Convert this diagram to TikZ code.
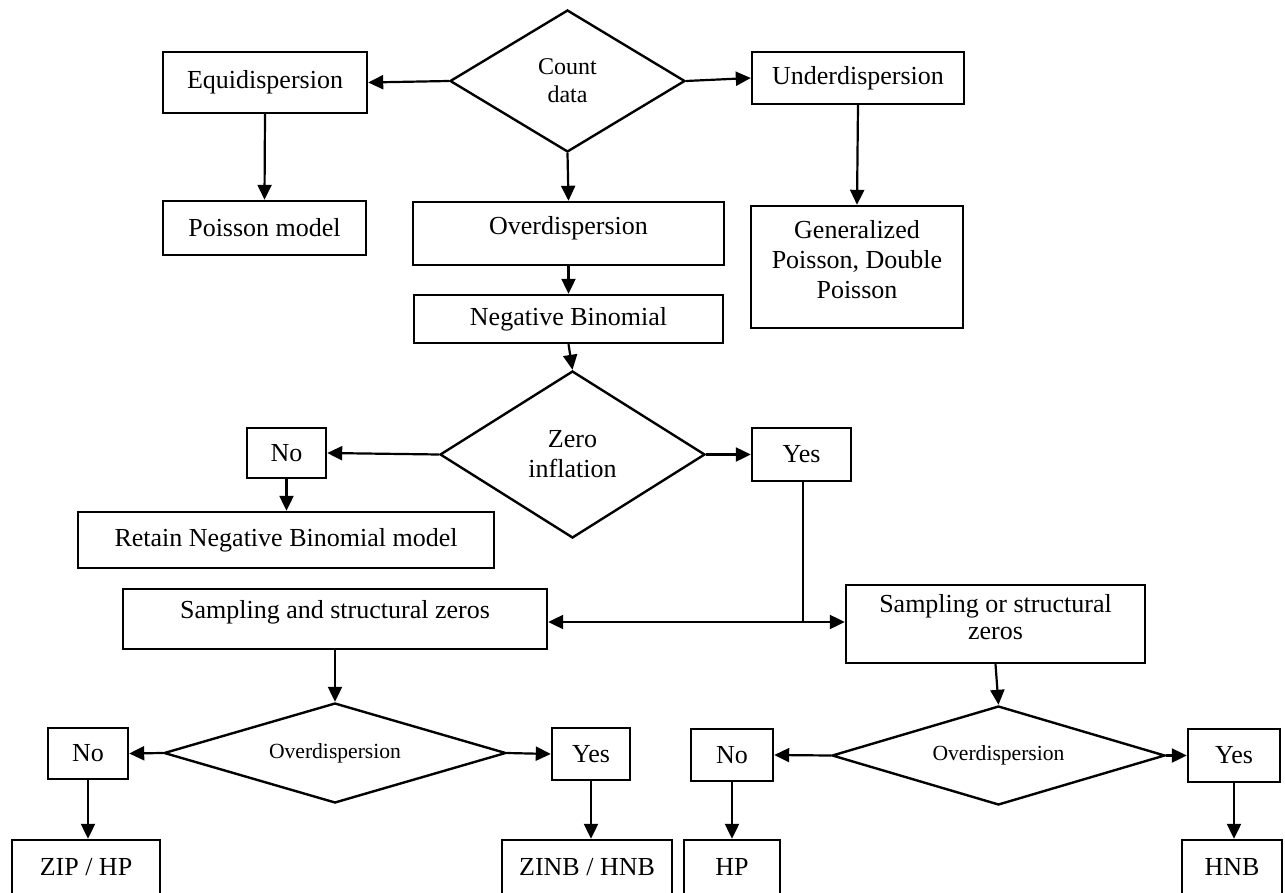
\documentclass[tikz,border=0pt]{standalone}
\usepackage{fontspec}
\setmainfont{Liberation Serif}
\usetikzlibrary{shapes.geometric,arrows.meta}
\begin{document}
\begin{tikzpicture}[x=0.5pt,y=-0.5pt,
  box/.style={draw,line width=1.2pt,rectangle,inner sep=0pt,align=center,font=\fontsize{13}{15}\selectfont},
  dia/.style={draw,line width=1.2pt,diamond,inner sep=0pt},
  dtext/.style={align=center,inner sep=0pt},
  arr/.style={line width=1.1pt,-{Triangle[length=7.5pt,width=7pt]}},
  darr/.style={line width=1.1pt,{Triangle[length=7.5pt,width=7pt]}-{Triangle[length=7.5pt,width=7pt]}},
  ln/.style={line width=1.1pt}]
\useasboundingbox (0,0) rectangle (1285,893);
% top row
\node[box,minimum width=102pt,minimum height=30.5pt] (equi) at (265,82.5) {Equidispersion};
\node[dia,minimum width=117.5pt,minimum height=71pt] (count) at (567.5,81) {};
\node[dtext,font=\fontsize{12}{14}\selectfont] (counttext) at (count.center) {Count\\data};
\node[box,minimum width=106pt,minimum height=26pt] (under) at (858,78) {Underdispersion};
\node[box,minimum width=101.5pt,minimum height=27pt] (poisson) at (264.5,228) {Poisson model};
\node[box,minimum width=155.5pt,minimum height=31.5pt,text depth=8pt] (over) at (568.5,233.5) {Overdispersion};
\node[box,minimum width=106pt,minimum height=61pt,text depth=8pt] (gen) at (857,267) {Generalized\\Poisson, Double\\Poisson};
\node[box,minimum width=154.5pt,minimum height=24pt] (negbin) at (568.5,319) {Negative Binomial};
% zero inflation
\node[dia,minimum width=132.5pt,minimum height=83.5pt] (zero) at (572.5,454.5) {};
\node[dtext,font=\fontsize{13}{15}\selectfont] (zerotext) at (zero.center) {Zero\\inflation};
\node[box,minimum width=39.5pt,minimum height=25pt] (no1) at (286.5,453) {No};
\node[box,minimum width=49.5pt,minimum height=26.5pt] (yes1) at (801.5,454.5) {Yes};
\node[box,minimum width=208pt,minimum height=28pt] (retain) at (286,540) {Retain Negative Binomial model};
% sampling
\node[box,minimum width=212pt,minimum height=30pt,text depth=9.5pt] (samp1) at (335,619) {Sampling and structural zeros};
\node[box,minimum width=149.5pt,minimum height=39pt,text depth=7pt,font=\fontsize{13}{13.5}\selectfont] (samp2) at (995.5,624) {Sampling or structural\\zeros};
\coordinate (join) at (803,622);
% bottom left
\node[dia,minimum width=171pt,minimum height=50pt] (od1) at (335,753) {};
\node[dtext,font=\fontsize{10.8}{12}\selectfont] (od1text) at (od1.center) {Overdispersion};
\node[box,minimum width=40pt,minimum height=25.5pt] (no2) at (88,753.5) {No};
\node[box,minimum width=39pt,minimum height=26pt] (yes2) at (591,754) {Yes};
\node[box,minimum width=74pt,minimum height=27pt] (zip) at (86,867) {ZIP / HP};
\node[box,minimum width=85pt,minimum height=27pt] (zinb) at (587,867) {ZINB / HNB};
% bottom right
\node[dia,minimum width=166.5pt,minimum height=49.5pt] (od2) at (998.5,755.5) {};
\node[dtext,font=\fontsize{10.8}{12}\selectfont] (od2text) at (od2.center) {Overdispersion};
\node[box,minimum width=41pt,minimum height=26pt] (no3) at (732,755) {No};
\node[box,minimum width=46pt,minimum height=26.5pt] (yes3) at (1234,755.5) {Yes};
\node[box,minimum width=48pt,minimum height=27pt] (hp) at (732,867) {HP};
\node[box,minimum width=50pt,minimum height=27pt] (hnb) at (1232,867) {HNB};
% connectors
\draw[arr] (count.west) -- (equi.east);
\draw[arr] (count.east) -- (under.west);
\draw[arr] (count.south) -- (over.north);
\draw[arr] (equi.south) -- (poisson.north);
\draw[arr] (under.south) -- (gen.north);
\draw[arr] (over.south) -- (negbin.north);
\draw[arr] (negbin.south) -- (zero.north);
\draw[arr] (zero.west) -- (no1.east);
\draw[arr] (zero.east) -- (yes1.east -| yes1.west);
\draw[arr] (no1.south) -- (no1.south |- retain.north);
\draw[ln] (yes1.south -| join) -- (join);
\draw[darr] (samp1.east |- join) -- (samp2.west |- join);
\draw[arr] (samp1.south) -- (od1.north);
\draw[arr] (od1.west) -- (no2.east);
\draw[arr] (od1.east) -- (yes2.west);
\draw[arr] (no2.south) -- (no2.south |- zip.north);
\draw[arr] (yes2.south) -- (yes2.south |- zinb.north);
\draw[arr] (samp2.south) -- (od2.north);
\draw[arr] (od2.west) -- (no3.east);
\draw[arr] (od2.east) -- (yes3.west);
\draw[arr] (no3.south) -- (hp.north);
\draw[arr] (yes3.south) -- (yes3.south |- hnb.north);
\end{tikzpicture}
\end{document}
